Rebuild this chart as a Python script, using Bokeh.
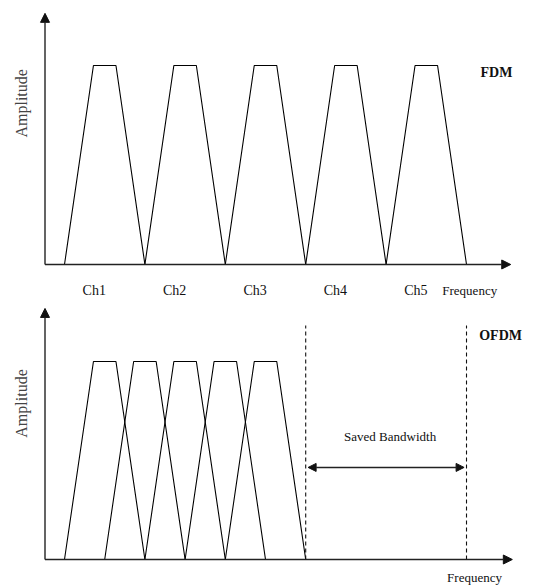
import math
from bokeh.plotting import figure
from bokeh.layouts import column
from bokeh.models import Range1d, Arrow, NormalHead
from bokeh.core.properties import value
from bokeh.embed import file_html
from bokeh.resources import INLINE

# ---------------- data ----------------
fdm_channels = ["Ch1", "Ch2", "Ch3", "Ch4", "Ch5"]
fdm_centers = [1, 2, 3, 4, 5]            # channel centre frequencies
ofdm_centers = [1, 1.5, 2, 2.5, 3]       # overlapping sub-carriers
amplitude = [0, 1, 1, 0]                 # trapezoid spectrum shape
band_half = 0.5                          # half bandwidth at base
top_half = 0.14                          # half width of flat top
saved_band = [3.5, 5.5]                  # saved bandwidth boundaries

FONT = value("Liberation Serif")
W = 544
X0 = 0.2575  # axis origin frequency


def trapezoids(centers):
    xs, ys = [], []
    for c in centers:
        xs.append([c - band_half, c - top_half, c + top_half, c + band_half])
        ys.append(list(amplitude))
    return xs, ys


def base_fig(h, y0, y1):
    p = figure(width=W, height=h, x_range=Range1d(-0.296, 6.470),
               y_range=Range1d(y0, y1), output_backend="svg",
               toolbar_location=None, x_axis_location=None,
               y_axis_location=None, min_border=0)
    p.grid.visible = False
    p.outline_line_color = None
    p.background_fill_color = "white"
    return p


def axes(p, xend, yend):
    p.add_layout(Arrow(end=NormalHead(size=9, fill_color="#111", line_color="#111"),
                       x_start=X0, y_start=0, x_end=xend, y_end=0,
                       line_width=1.6, line_color="#222"))
    p.add_layout(Arrow(end=NormalHead(size=9, fill_color="#111", line_color="#111"),
                       x_start=X0, y_start=0, x_end=X0, y_end=yend,
                       line_width=1.4, line_color="#222"))


# ---------------- FDM panel ----------------
p1 = base_fig(298, -0.1709, 1.3266)
xs, ys = trapezoids(fdm_centers)
p1.multi_line(xs, ys, line_color="black", line_width=1.1)
axes(p1, 6.05, 1.262)

p1.text(x=[c - 0.13 for c in fdm_centers], y=[-0.13] * len(fdm_centers),
        text=fdm_channels, text_font=FONT, text_font_size=value("14px"),
        text_align="center", text_baseline="middle", text_color="#111")
p1.text(x=[5.54], y=[-0.13], text=["Frequency"], text_font=FONT,
        text_font_size=value("13px"), text_align="center",
        text_baseline="middle", text_color="#111")
p1.text(x=[5.873], y=[0.965], text=["FDM"], text_font=FONT,
        text_font_size=value("14px"), text_font_style="bold",
        text_align="center", text_baseline="middle", text_color="#111")
p1.text(x=[-0.035], y=[0.81], text=["Amplitude"], text_font=FONT,
        text_font_size=value("16px"), angle=math.pi / 2,
        text_align="center", text_baseline="middle", text_color="#444")

# ---------------- OFDM panel ----------------
p2 = base_fig(287, -0.1313, 1.3182)
xs, ys = trapezoids(ofdm_centers)
p2.multi_line(xs, ys, line_color="black", line_width=1.1)
axes(p2, 6.07, 1.268)

p2.segment(x0=saved_band, y0=[0, 0], x1=saved_band, y1=[1.182, 1.182],
           line_color="#111", line_width=1.1, line_dash="4 3")
p2.add_layout(Arrow(start=NormalHead(size=8, fill_color="#111", line_color="#111"),
                    end=NormalHead(size=8, fill_color="#111", line_color="#111"),
                    x_start=saved_band[0] + 0.03, y_start=0.465,
                    x_end=saved_band[1] - 0.03, y_end=0.465,
                    line_width=1.6, line_color="#222"))
p2.text(x=[(saved_band[0] + saved_band[1]) / 2 + 0.05], y=[0.621],
        text=["Saved Bandwidth"], text_font=FONT, text_font_size=value("13px"),
        text_align="center", text_baseline="middle", text_color="#111")
p2.text(x=[5.924], y=[1.131], text=["OFDM"], text_font=FONT,
        text_font_size=value("14px"), text_font_style="bold",
        text_align="center", text_baseline="middle", text_color="#111")
p2.text(x=[5.6], y=[-0.091], text=["Frequency"], text_font=FONT,
        text_font_size=value("13px"), text_align="center",
        text_baseline="middle", text_color="#111")
p2.text(x=[-0.035], y=[0.788], text=["Amplitude"], text_font=FONT,
        text_font_size=value("16px"), angle=math.pi / 2,
        text_align="center", text_baseline="middle", text_color="#444")

layout = column(p1, p2, spacing=0)
open("out.html", "w").write(file_html(layout, INLINE))
